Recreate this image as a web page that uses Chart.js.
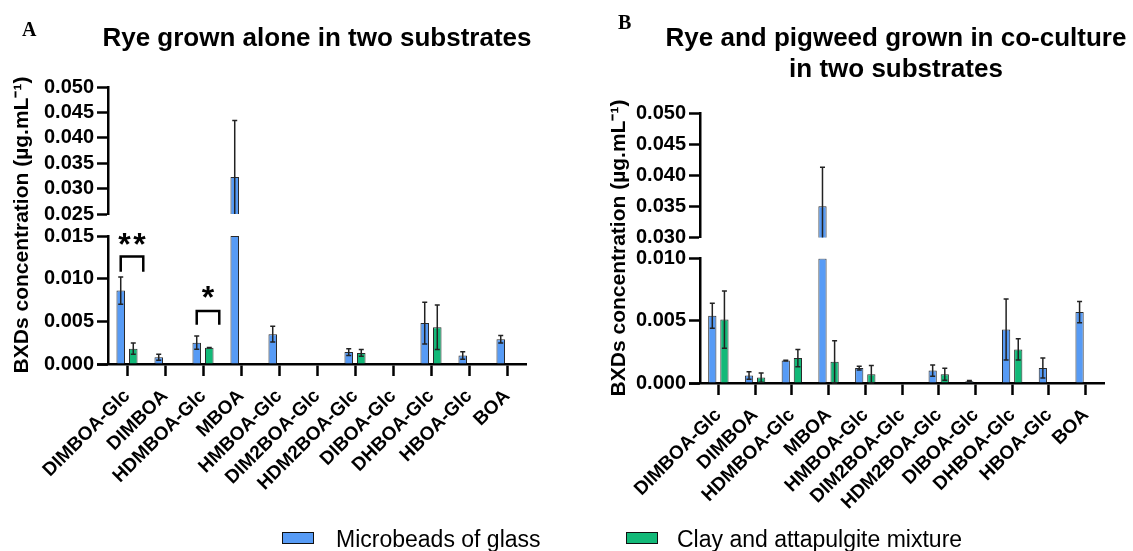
<!DOCTYPE html>
<html>
<head>
<meta charset="utf-8">
<title>BXDs concentration</title>
<script src="https://cdn.jsdelivr.net/npm/chart.js@4.4.1/dist/chart.umd.min.js"></script>
<style>
  html, body { margin: 0; padding: 0; background: #fff; }
  #page { position: relative; width: 1133px; height: 551px; overflow: hidden;
          font-family: "Liberation Sans", Arial, sans-serif; color: #000; }
  canvas { position: absolute; top: 0; }
  #cA { left: 0; }
  #cB { left: 570px; }
  .letter { position: absolute; font-family: "Liberation Serif", "Times New Roman", serif;
            font-weight: bold; font-size: 20px; line-height: 20px; }
  .ttl { position: absolute; text-align: center; font-weight: bold; font-size: 26px;
         line-height: 31px; white-space: nowrap; }
  .sw { position: absolute; top: 532px; width: 30px; height: 10px; border: 1.5px solid #111; }
  .lt { position: absolute; top: 526px; font-size: 23px; line-height: 27px; white-space: nowrap; }
</style>
</head>
<body>
<div id="page">
  <canvas id="cA" width="560" height="551"></canvas>
  <canvas id="cB" width="563" height="551"></canvas>
  <div class="letter" style="left:22px;top:19px">A</div>
  <div class="letter" style="left:618px;top:12px">B</div>
  <div class="ttl" id="tA" style="left:17px;width:600px;top:22px"></div>
  <div class="ttl" id="tB" style="left:596px;width:600px;top:22px"></div>
  <span class="sw" style="left:282px;background:#579BF5"></span>
  <span class="lt" style="left:336px">Microbeads of glass</span>
  <span class="sw" style="left:626px;background:#12B978"></span>
  <span class="lt" style="left:677px">Clay and attapulgite mixture</span>
</div>
<script>
// compounds on the x axis
const compounds = ['DIMBOA-Glc', 'DIMBOA', 'HDMBOA-Glc', 'MBOA', 'HMBOA-Glc', 'DIM2BOA-Glc',
                   'HDM2BOA-Glc', 'DIBOA-Glc', 'DHBOA-Glc', 'HBOA-Glc', 'BOA'];

// A - rye alone (mean and sd, ug/mL)
const glassA   = [0.0086, 0.0008, 0.0025, 0.0323, 0.0035, 0, 0.0014, 0, 0.0048, 0.0010, 0.0029];
const glassASd = [0.0016, 0.00035, 0.00077, 0.0111, 0.00093, 0, 0.0004, 0, 0.00245, 0.00045, 0.00043];
const clayA    = [0.0018, 0, 0.0019, 0.00005, 0.00005, 0, 0.0013, 0, 0.0043, 0, 0];
const clayASd  = [0.00066, 0, 0.00003, 0, 0, 0, 0.0004, 0, 0.0026, 0, 0];

// B - rye + pigweed co-culture
const glassB   = [0.0054, 0.0006, 0.0018, 0.0350, 0.0012, 0, 0.0010, 0.00014, 0.0043, 0.0012, 0.0057];
const glassBSd = [0.0010, 0.0003, 0.00003, 0.0063, 0.00015, 0, 0.00045, 0.00006, 0.00245, 0.0008, 0.00085];
const clayB    = [0.0051, 0.00044, 0.0020, 0.0017, 0.0007, 0, 0.0007, 0, 0.0027, 0, 0];
const clayBSd  = [0.0023, 0.00037, 0.0007, 0.0017, 0.0007, 0, 0.00048, 0, 0.00086, 0, 0];

// broken y axis tick labels (lower and upper segment)
const lowTicksA  = [0, 0.005, 0.010, 0.015];
const highTicksA = [0.025, 0.030, 0.035, 0.040, 0.045, 0.050];
const lowTicksB  = [0, 0.005, 0.010];
const highTicksB = [0.030, 0.035, 0.040, 0.045, 0.050];

// significance marks in A (category index, stars, bracket level, leg end, star level)
const sigA = [
  { cat: 0, stars: 2, level: 0.0126, foot: 0.0108, mark: 0.0145 },
  { cat: 2, stars: 1, level: 0.0062, foot: 0.0046, mark: 0.0083 }
];

const titleA = ['Rye grown alone in two substrates'];
const titleB = ['Rye and pigweed grown in co-culture', 'in two substrates'];

const BLUE = '#579BF5';
const GREEN = '#12B978';
const yTitle = 'BXDs concentration (\u00B5g.mL\u207B\u00B9)';

document.getElementById('tA').innerHTML = titleA.join('<br>');
document.getElementById('tB').innerHTML = titleB.join('<br>');

// draws mean +/- sd whiskers across the broken axis
const errorBars = {
  id: 'errorBars',
  afterDatasetsDraw(chart) {
    const ctx = chart.ctx, lo = chart.scales.yLow, hi = chart.scales.yHigh;
    const px = v => v >= hi.min ? hi.getPixelForValue(v)
                  : (v > lo.max ? hi.bottom : lo.getPixelForValue(Math.max(v, 0)));
    ctx.save();
    ctx.strokeStyle = '#222';
    ctx.lineWidth = 1.5;
    chart.data.datasets.forEach((ds, di) => {
      if (!ds.sds) return;
      const meta = chart.getDatasetMeta(di);
      ds.sds.forEach((sd, i) => {
        if (!sd) return;
        const m = ds.means[i], x = meta.data[i].x;
        const yTop = px(m + sd), yBot = px(m - sd);
        ctx.beginPath();
        ctx.moveTo(x, yBot); ctx.lineTo(x, yTop);
        ctx.moveTo(x - 2.5, yTop); ctx.lineTo(x + 2.5, yTop);
        if (m - sd <= lo.max || m - sd >= hi.min) {
          ctx.moveTo(x - 2.5, yBot); ctx.lineTo(x + 2.5, yBot);
        }
        ctx.stroke();
      });
    });
    // x axis line runs a little past the y axis, as in the original
    const a = chart.chartArea;
    ctx.strokeStyle = '#000';
    ctx.lineWidth = 2.5;
    ctx.beginPath();
    ctx.moveTo(a.left - 11, a.bottom + 0.5);
    ctx.lineTo(a.left, a.bottom + 0.5);
    ctx.stroke();
    ctx.restore();
  }
};

// brackets with asterisks
const sigMarks = {
  id: 'sigMarks',
  afterDatasetsDraw(chart, args, opts) {
    if (!opts.marks) return;
    const ctx = chart.ctx, lo = chart.scales.yLow;
    ctx.save();
    ctx.strokeStyle = '#000';
    ctx.fillStyle = '#000';
    ctx.lineWidth = 2.5;
    ctx.font = 'bold 32px "Liberation Sans", Arial, sans-serif';
    ctx.textAlign = 'center';
    ctx.textBaseline = 'middle';
    opts.marks.forEach(s => {
      const x1 = chart.getDatasetMeta(0).data[s.cat].x;
      const x2 = chart.getDatasetMeta(1).data[s.cat].x + 10;
      const yb = lo.getPixelForValue(s.level), yf = lo.getPixelForValue(s.foot);
      ctx.beginPath();
      ctx.moveTo(x1, yf); ctx.lineTo(x1, yb); ctx.lineTo(x2, yb); ctx.lineTo(x2, yf);
      ctx.stroke();
      const cx = (x1 + x2) / 2, ys = lo.getPixelForValue(s.mark) + 6;
      for (let k = 0; k < s.stars; k++) {
        ctx.fillText('*', cx + (k - (s.stars - 1) / 2) * 15, ys);
      }
    });
    ctx.restore();
  }
};

function buildPanel(id, p) {
  const lowMax = p.lowTicks[p.lowTicks.length - 1];
  const highMin = p.highTicks[0];
  const cut = v => Math.min(v, lowMax);
  const over = v => (v > highMin ? v : null);

  const yAxis = (ticks, weight) => ({
    type: 'linear', position: 'left', stack: 'v', stackWeight: weight, stacked: false,
    min: ticks[0], max: ticks[ticks.length - 1],
    afterBuildTicks: s => { s.ticks = ticks.map(v => ({ value: v })); },
    ticks: { color: '#000', padding: 3, autoSkip: false, font: { size: 20, weight: 'bold' },
             callback: v => v.toFixed(3) },
    grid: { drawOnChartArea: false, drawTicks: true, tickLength: 11, tickWidth: 2.5, tickColor: '#000' },
    border: { color: '#000', width: 2.5 },
    afterFit: s => { s.width = p.axisW; }
  });

  const bar = { borderColor: '#2a2a2a', borderWidth: 1, categoryPercentage: 0.66, barPercentage: 0.68 };

  return new Chart(document.getElementById(id), {
    type: 'bar',
    data: {
      labels: compounds,
      datasets: [
        Object.assign({ label: 'Microbeads of glass', data: p.glass.map(cut), means: p.glass, sds: p.glassSd,
          yAxisID: 'yLow', stack: 'glass', backgroundColor: BLUE }, bar),
        Object.assign({ label: 'Clay and attapulgite mixture', data: p.clay.map(cut), means: p.clay, sds: p.claySd,
          yAxisID: 'yLow', stack: 'clay', backgroundColor: GREEN }, bar),
        Object.assign({ label: 'glass (upper)', data: p.glass.map(over), yAxisID: 'yHigh', stack: 'glass',
          backgroundColor: BLUE }, bar),
        Object.assign({ label: 'clay (upper)', data: p.clay.map(over), yAxisID: 'yHigh', stack: 'clay',
          backgroundColor: GREEN }, bar)
      ]
    },
    options: {
      responsive: false,
      animation: false,
      layout: { padding: { left: 0, right: p.padR, top: p.padT, bottom: p.padB } },
      scales: {
        x: {
          type: 'category', offset: true,
          grid: { display: true, offset: false, drawOnChartArea: false, drawTicks: true,
                  tickLength: 12, tickWidth: 2.5, tickColor: '#000' },
          border: { color: '#000', width: 2.5 },
          ticks: { color: '#000', font: { size: 19, weight: 'bold' }, minRotation: 45, maxRotation: 45,
                   autoSkip: false, padding: 9 },
          afterFit: s => { s.height = 150; }
        },
        yLow: yAxis(p.lowTicks, p.lowW),
        yGap: {
          type: 'linear', position: 'left', stack: 'v', stackWeight: p.gapW,
          grid: { display: false }, ticks: { display: false }, border: { display: false },
          title: { display: true, text: yTitle, color: '#000', font: { size: 21, weight: 'bold' },
                   padding: { top: p.yTitlePad, bottom: 0 } },
          afterFit: s => { s.width = p.axisW; }
        },
        yHigh: yAxis(p.highTicks, p.highW)
      },
      plugins: {
        legend: { display: false },
        tooltip: { enabled: false },
        sigMarks: { marks: p.sig }
      }
    },
    plugins: [errorBars, sigMarks]
  });
}

buildPanel('cA', {
  glass: glassA, glassSd: glassASd, clay: clayA, claySd: clayASd,
  lowTicks: lowTicksA, highTicks: highTicksA,
  lowW: 128, gapW: 22, highW: 127,
  axisW: 108, padR: 34, padT: 87, padB: 37,
  yTitlePad: 10, sig: sigA
});

buildPanel('cB', {
  glass: glassB, glassSd: glassBSd, clay: clayB, claySd: clayBSd,
  lowTicks: lowTicksB, highTicks: highTicksB,
  lowW: 124, gapW: 21, highW: 124,
  axisW: 130, padR: 29, padT: 113, padB: 18,
  yTitlePad: 37, sig: null
});
</script>
</body>
</html>
